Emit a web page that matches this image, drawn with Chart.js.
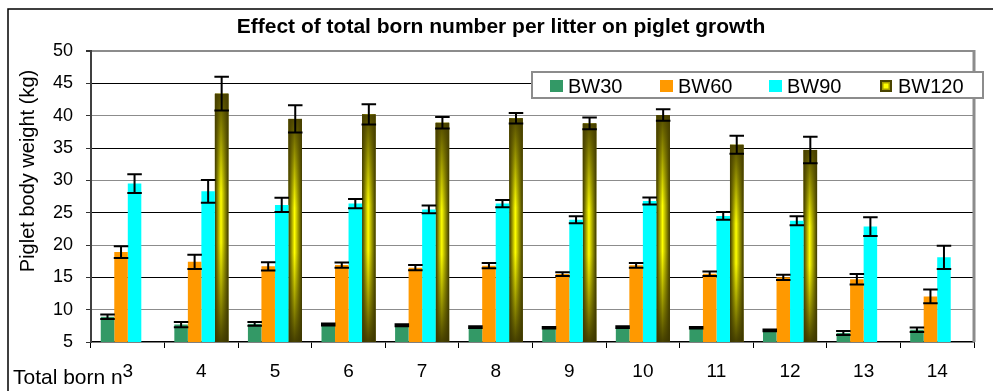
<!DOCTYPE html>
<html>
<head>
<meta charset="utf-8">
<title>Effect of total born number per litter on piglet growth</title>
<script src="https://cdn.jsdelivr.net/npm/chart.js@4.4.1/dist/chart.umd.min.js"></script>
<style>
    html, body { margin: 0; padding: 0; background: #fff; }
    #wrap { width: 993px; height: 391px; position: relative; }
</style>
</head>
<body>
<div id="wrap"><canvas id="growthChart"></canvas></div>
<script>
// Data (kg, mean and error half-width)
const categories = ['3', '4', '5', '6', '7', '8', '9', '10', '11', '12', '13', '14'];
const bw30 = [8.9, 7.7, 7.8, 7.7, 7.6, 7.3, 7.2, 7.3, 7.2, 6.8, 6.4, 6.9];
const bw30Err = [0.35, 0.4, 0.3, 0.15, 0.15, 0.15, 0.12, 0.12, 0.12, 0.12, 0.3, 0.35];
const bw60 = [18.9, 17.4, 16.7, 16.9, 16.5, 16.8, 15.5, 16.85, 15.55, 15.0, 14.7, 12.05];
const bw60Err = [0.9, 1.1, 0.65, 0.4, 0.4, 0.4, 0.3, 0.35, 0.35, 0.4, 0.8, 1.05];
const bw90 = [29.5, 28.3, 26.2, 26.4, 25.5, 26.4, 23.9, 26.8, 24.5, 23.75, 22.85, 18.1];
const bw90Err = [1.45, 1.75, 1.1, 0.7, 0.6, 0.55, 0.55, 0.55, 0.6, 0.7, 1.45, 1.8];
const bw120 = [null, 43.4, 39.5, 40.2, 38.9, 39.6, 38.8, 40.1, 35.5, 34.7, null, null];
const bw120Err = [null, 2.6, 2.1, 1.55, 0.9, 0.8, 0.9, 0.9, 1.4, 2.05, null, null];
const yMin = 5, yMax = 50, yStep = 5;

const FONT = "'Liberation Sans', Arial, sans-serif";
Chart.defaults.font.family = FONT;
Chart.defaults.color = '#000';

// Olive-yellow shading for the BW120 bars
const bw120Shade = {
    id: 'bw120Shade',
    afterDatasetDraw(chart, args) {
        if (args.index !== 3) return;
        const ctx = chart.ctx;
        const bottom = chart.chartArea.bottom;
        ctx.save();
        args.meta.data.forEach((el, j) => {
            if (bw120[j] == null) return;
            const { x, y, base, width } = el.getProps(['x', 'y', 'base', 'width'], true);
            const b = Math.min(base, bottom);
            const l = x - width / 2;
            const hg = ctx.createLinearGradient(l, 0, l + width, 0);
            hg.addColorStop(0, '#3a3500');
            hg.addColorStop(0.45, '#ffff00');
            hg.addColorStop(1, '#3a3500');
            ctx.fillStyle = hg;
            ctx.fillRect(l, y, width, b - y);
            const vg = ctx.createLinearGradient(0, y, 0, b);
            vg.addColorStop(0, 'rgba(72,64,0,0.95)');
            vg.addColorStop(0.4, 'rgba(72,64,0,0)');
            vg.addColorStop(0.6, 'rgba(72,64,0,0)');
            vg.addColorStop(1, 'rgba(60,54,0,0.95)');
            ctx.fillStyle = vg;
            ctx.fillRect(l, y, width, b - y);
        });
        ctx.restore();
    }
};

// Error bars drawn through the y scale
const errorBars = {
    id: 'errorBars',
    afterDatasetsDraw(chart) {
        const { ctx, scales: { y } } = chart;
        ctx.save();
        ctx.strokeStyle = '#000';
        ctx.lineWidth = 2;
        chart.data.datasets.forEach((ds, i) => {
            const meta = chart.getDatasetMeta(i);
            meta.data.forEach((bar, j) => {
                const v = ds.data[j], e = ds.errors[j];
                if (v == null || e == null) return;
                const top = y.getPixelForValue(v + e);
                const bot = y.getPixelForValue(v - e);
                const half = bar.width / 2 + 0.5;
                ctx.beginPath();
                ctx.moveTo(bar.x, top); ctx.lineTo(bar.x, bot);
                ctx.moveTo(bar.x - half, top); ctx.lineTo(bar.x + half, top);
                ctx.moveTo(bar.x - half, bot); ctx.lineTo(bar.x + half, bot);
                ctx.stroke();
            });
        });
        ctx.restore();
    }
};

// Frame, titles, legend box and the clipped x-axis caption
const decorations = {
    id: 'decorations',
    afterDraw(chart) {
        const { ctx, chartArea: a } = chart;
        ctx.save();

        // plot area right edge
        ctx.strokeStyle = '#8c8c8c';
        ctx.lineWidth = 3;
        ctx.beginPath();
        ctx.moveTo(a.right, a.top - 1);
        ctx.lineTo(a.right, a.bottom);
        ctx.stroke();

        // outer chart frame (only top and left are inside the picture)
        ctx.strokeStyle = '#000';
        ctx.lineWidth = 1.5;
        ctx.beginPath();
        ctx.moveTo(993, 9);
        ctx.lineTo(8, 9);
        ctx.lineTo(8, 391);
        ctx.stroke();

        // title
        ctx.fillStyle = '#000';
        ctx.font = 'bold 21px ' + FONT;
        ctx.textAlign = 'center';
        ctx.textBaseline = 'alphabetic';
        ctx.fillText('Effect of total born number per litter on piglet growth', 501, 33);

        // y axis title
        ctx.save();
        ctx.translate(34, 171);
        ctx.rotate(-Math.PI / 2);
        ctx.font = '20px ' + FONT;
        ctx.fillText('Piglet body weight (kg)', 0, 0);
        ctx.restore();

        // x caption
        ctx.font = '21px ' + FONT;
        ctx.textAlign = 'left';
        ctx.fillText('Total born n', 13, 384);

        // legend
        ctx.fillStyle = '#fff';
        ctx.fillRect(532, 72, 451, 26);
        ctx.strokeStyle = '#8c8c8c';
        ctx.lineWidth = 2;
        ctx.strokeRect(532, 72, 451, 26);
        const swatchX = [550, 660, 769, 880];
        chart.data.datasets.forEach((ds, i) => {
            const sx = swatchX[i];
            if (i === 3) {
                ctx.fillStyle = '#4a4400';
                ctx.fillRect(sx, 80, 12, 12);
                ctx.fillStyle = '#a8a000';
                ctx.fillRect(sx + 2, 82, 8, 8);
                ctx.fillStyle = '#ffff00';
                ctx.fillRect(sx + 3.5, 83.5, 5, 5);
            } else {
                ctx.fillStyle = ds.backgroundColor;
                ctx.fillRect(sx, 80, 13, 12);
            }
            ctx.fillStyle = '#000';
            ctx.font = '20px ' + FONT;
            ctx.fillText(ds.label, sx + 18, 93);
        });
        ctx.restore();
    }
};

const gridColor = (c) => {
    const v = c.tick ? c.tick.value : null;
    if (v === yMin) return 'rgba(0,0,0,0)';
    if (v === yMax) return '#8c8c8c';
    return ((v / yStep) % 2 === 1) ? '#000' : '#8c8c8c';
};

new Chart(document.getElementById('growthChart'), {
    type: 'bar',
    data: {
        labels: categories,
        datasets: [
            { label: 'BW30', data: bw30, errors: bw30Err, backgroundColor: '#339966' },
            { label: 'BW60', data: bw60, errors: bw60Err, backgroundColor: '#ff9900' },
            { label: 'BW90', data: bw90, errors: bw90Err, backgroundColor: '#00ffff' },
            { label: 'BW120', data: bw120, errors: bw120Err, backgroundColor: '#a09a00' }
        ]
    },
    options: {
        responsive: true,
        maintainAspectRatio: false,
        animation: false,
        devicePixelRatio: 1,
        layout: { padding: { top: 51, right: 19, left: 0, bottom: 0 } },
        datasets: {
            bar: { categoryPercentage: 0.735, barPercentage: 1, borderWidth: 0 }
        },
        plugins: {
            legend: { display: false },
            title: { display: false },
            tooltip: { enabled: false }
        },
        scales: {
            x: {
                afterFit: (s) => { s.height = 49; },
                grid: { drawOnChartArea: false, offset: true, tickLength: 6, color: '#000', tickColor: '#000' },
                border: { color: '#000', width: 1.5 },
                ticks: { color: '#000', font: { size: 19 }, padding: 12, maxRotation: 0 }
            },
            y: {
                min: yMin,
                max: yMax,
                afterFit: (s) => { s.width = 91; },
                grid: {
                    color: gridColor,
                    lineWidth: (c) => (c.tick && c.tick.value === yMax ? 2 : 1),
                    tickColor: '#333',
                    tickLength: 5
                },
                border: { color: '#404040', width: 2 },
                ticks: { stepSize: yStep, color: '#000', font: { size: 18 }, padding: 13 }
            }
        }
    },
    plugins: [bw120Shade, errorBars, decorations]
});
</script>
</body>
</html>
